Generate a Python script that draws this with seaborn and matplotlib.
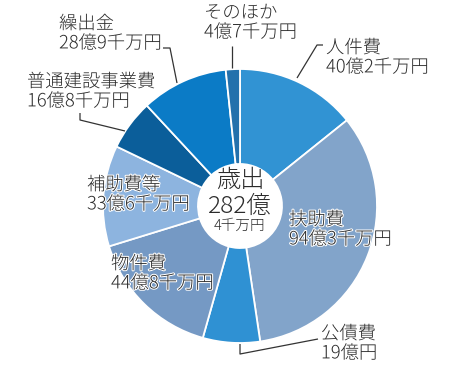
import matplotlib
matplotlib.use("Agg")
import matplotlib.pyplot as plt
import matplotlib.patheffects as pe
import seaborn as sns

# 歳出の内訳(億円)
categories = ["人件費", "扶助費", "公債費", "物件費", "補助費等", "普通建設事業費", "繰出金", "そのほか"]
amounts = [40.2, 94.3, 19.0, 44.8, 33.6, 16.8, 28.9, 4.7]
amount_labels = ["40億2千万円", "94億3千万円", "19億円", "44億8千万円", "33億6千万円",
                 "16億8千万円", "28億9千万円", "4億7千万円"]
colors = ["#3193d3", "#82a4ca", "#2f91d3", "#7599c4", "#8db4df", "#0b5e9a", "#0b7bc6", "#2371ac"]

total_title = "歳出"
total_main = "282億"
total_sub = "4千万円"

sns.set_theme(style="white")
plt.rcParams["font.family"] = ["Noto Sans CJK JP", "DejaVu Sans"]

W, H = 457, 381
fig = plt.figure(figsize=(W / 100, H / 100), dpi=100)
ax = fig.add_axes([0, 0, 1, 1])

cx, cy, r = 240, H - 206, 137
ax.pie(amounts, colors=sns.color_palette(colors), startangle=90, counterclock=False,
       radius=r, center=(cx, cy), frame=True,
       wedgeprops=dict(edgecolor="white", linewidth=1.3, width=r - 42))
ax.set_xlim(0, W)
ax.set_ylim(0, H)
ax.set_aspect("equal")
ax.axis("off")

txt = "#2b2b2b"
fs = 13.2

def label(i, x, y):
    t = ax.text(x, H - y, categories[i] + "\n" + amount_labels[i], ha="left", va="top",
                fontsize=fs, color=txt, linespacing=1.1, fontweight="light")
    t.set_path_effects([pe.withStroke(linewidth=1.5, foreground="white")])

label(0, 326, 39)
label(1, 289, 211)
label(2, 321, 325)
label(3, 111, 255)
label(4, 87, 176)
label(5, 27, 73)
label(6, 59, 15)
label(7, 204, 4)

def leader(pts):
    xs = [p[0] for p in pts]
    ys = [H - p[1] for p in pts]
    ax.plot(xs, ys, color="#333333", linewidth=0.9, solid_capstyle="butt")

leader([(323, 45), (317, 45), (297, 78)])
leader([(318, 339), (240, 354), (240, 344)])
leader([(80, 113), (80, 120), (125, 131)])
leader([(163, 48), (170, 48), (177, 83)])
leader([(232, 46), (232, 68)])

ax.text(cx, H - 168, total_title, ha="center", va="top", fontsize=17.5, color=txt, fontweight="light")
ax.text(cx, H - 194, total_main, ha="center", va="top", fontsize=17.5, color=txt, fontweight="light")
ax.text(cx, H - 219, total_sub, ha="center", va="top", fontsize=10.5, color=txt, fontweight="light")

fig.savefig("out.png", dpi=100)
